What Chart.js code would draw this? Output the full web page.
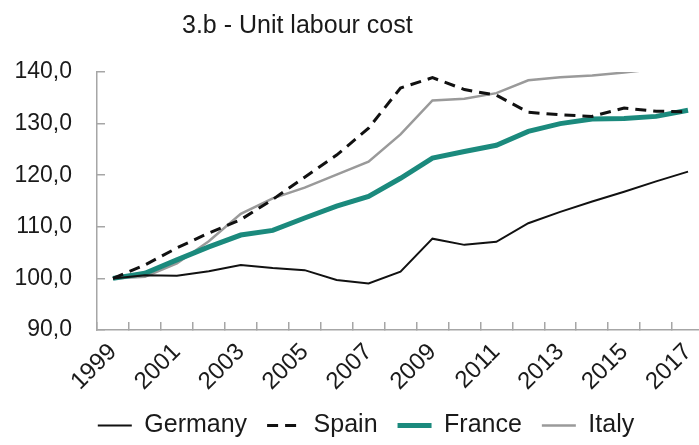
<!DOCTYPE html>
<html>
<head>
<meta charset="utf-8">
<script src="https://cdn.jsdelivr.net/npm/chart.js@4"></script>
<style>
  body { margin: 0; overflow: hidden; background: #fff; }
  #wrap { position: absolute; left: 0; top: 0; width: 732px; height: 445px; }
  #title {
    position: absolute; left: 182px; top: 12px;
    font: 25px 'Liberation Sans', Arial, sans-serif; line-height: 25px;
    color: #1a1a1a; white-space: nowrap;
  }
</style>
</head>
<body>
<div id="wrap"><canvas id="ulc-chart"></canvas></div>
<div id="title">3.b - Unit labour cost</div>
<script>
// index 1999 = 100
const years = ['1999', '2000', '2001', '2002', '2003', '2004', '2005', '2006', '2007', '2008',
    '2009', '2010', '2011', '2012', '2013', '2014', '2015', '2016', '2017'];
const germany = [100, 100.6, 100.5, 101.4, 102.6, 102.0, 101.6, 99.7, 99.0, 101.3,
    107.7, 106.5, 107.1, 110.7, 112.9, 114.9, 116.8, 118.8, 120.7];
const spain = [100, 102.6, 105.9, 108.8, 111.4, 115.3, 119.6, 123.9, 129.1, 136.9,
    138.9, 136.6, 135.5, 132.2, 131.7, 131.4, 133.0, 132.4, 132.3];
const france = [100, 101.0, 103.6, 106.1, 108.4, 109.3, 111.7, 114.0, 115.9, 119.4,
    123.3, 124.6, 125.8, 128.5, 130.0, 130.9, 131.0, 131.4, 132.6];
const italy = [100, 100.3, 102.9, 107.2, 112.5, 115.5, 117.6, 120.1, 122.6, 127.9,
    134.5, 134.8, 135.9, 138.4, 139.0, 139.3, 139.9, 140.6, 141.0];
const yMin = 90, yMax = 140, yStep = 10;

const FONT = "'Liberation Sans', Arial, sans-serif";
const TEXT = '#1a1a1a';
const AXIS = '#a6a6a6';

Chart.defaults.font.family = FONT;
Chart.defaults.color = TEXT;

function lineSet(label, data, color, width, dash) {
    return {
        label: label,
        data: data,
        borderColor: color,
        backgroundColor: color,
        borderWidth: width,
        borderDash: dash || [],
        pointRadius: 0,
        tension: 0,
        fill: false
    };
}

new Chart(document.getElementById('ulc-chart'), {
    type: 'line',
    data: {
        labels: years,
        datasets: [
            lineSet('Germany', germany, '#111111', 2),
            lineSet('Spain', spain, '#111111', 3, [11, 7]),
            lineSet('France', france, '#1b8a7d', 5),
            lineSet('Italy', italy, '#9a9a9a', 2.5)
        ]
    },
    options: {
        responsive: true,
        maintainAspectRatio: false,
        animation: false,
        layout: { padding: { top: 72, right: 0, bottom: -3, left: 0 } },
        plugins: {
            title: { display: false },
            tooltip: { enabled: false },
            legend: {
                position: 'bottom',
                labels: {
                    font: { size: 25 },
                    color: TEXT,
                    usePointStyle: true,
                    pointStyle: 'line',
                    pointStyleWidth: 34,
                    padding: 20,
                    generateLabels: function (chart) {
                        const items = Chart.defaults.plugins.legend.labels.generateLabels(chart);
                        items.forEach(it => {
                            it.lineDash = chart.data.datasets[it.datasetIndex].borderDash;
                        });
                        return items;
                    }
                }
            }
        },
        scales: {
            x: {
                offset: true,
                grid: {
                    offset: true,
                    drawOnChartArea: false,
                    color: AXIS,
                    tickLength: -8,
                    lineWidth: 1.5
                },
                border: { color: AXIS, width: 1.5 },
                ticks: {
                    autoSkip: false,
                    minRotation: 45,
                    maxRotation: 45,
                    padding: 16,
                    font: { size: 24 },
                    callback: function (value, index) {
                        return index % 2 === 0 ? this.getLabelForValue(value) : '';
                    }
                },
                afterFit: function (scale) { scale.height = 63; }
            },
            y: {
                min: yMin,
                max: yMax,
                grid: {
                    drawOnChartArea: false,
                    color: AXIS,
                    tickLength: -8,
                    lineWidth: 1.5
                },
                border: { color: AXIS, width: 1.5 },
                ticks: {
                    stepSize: yStep,
                    padding: 33,
                    font: { size: 23 },
                    callback: v => v.toFixed(1).replace('.', ',')
                },
                afterFit: function (scale) { scale.width = 97; }
            },
            // empty spacer on the right, so the legend sits where it does in the original
            spacer: {
                type: 'linear',
                position: 'right',
                grid: { display: false },
                border: { display: false },
                ticks: { display: false },
                afterFit: function (scale) { scale.width = 28; }
            }
        }
    }
});
</script>
</body>
</html>
